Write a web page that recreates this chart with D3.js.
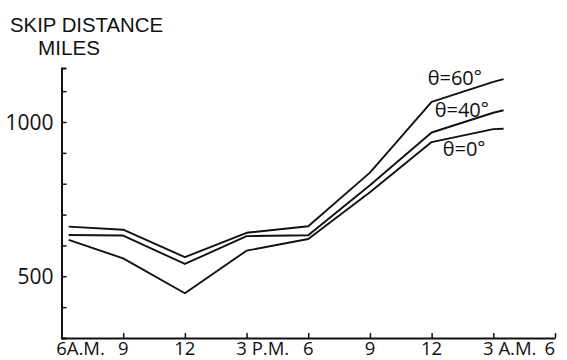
<!DOCTYPE html>
<html><head><meta charset="utf-8">
<script src="https://cdn.jsdelivr.net/npm/d3@7"></script>
<style>
html,body{margin:0;padding:0;background:#fff;}
text{font-family:"Open Sans","Roboto",sans-serif;fill:#111;}
</style></head>
<body><svg id="c" width="567" height="360"></svg>
<script>
// ---- data ----
const hours = [6.35, 9, 12, 15, 18, 21, 24, 27, 27.5];
const theta60 = [661, 651, 562, 641, 662, 836, 1065, 1130, 1139];
const theta40 = [634, 632, 540, 630, 633, 795, 966, 1030, 1038];
const theta0  = [618, 558, 445, 583, 621, 772, 935, 977, 978];
const seriesNames = ["θ=60", "θ=40", "θ=0"];
const xTickValues = [6, 9, 12, 15, 18, 21, 24, 27, 30];
const xTickNumbers = ["6", "9", "12", "3", "6", "9", "12", "3", "6"];
const xTickSuffix = ["A.M.", "", "", " P.M.", "", "", "", " A.M.", ""];
const yTickValues = [400, 500, 600, 700, 800, 900, 1000, 1100];
const yTickLabels = ["", "500", "", "", "", "", "1000", ""];
const titleLines = ["SKIP DISTANCE", "MILES"];

const svg = d3.select("#c");
const x = d3.scaleLinear().domain([6, 30]).range([61.5, 555]);
const y = d3.scaleLinear().domain([300, 1175]).range([338, 68]);

// axes
svg.append("g").attr("transform", `translate(${x(6)},0)`)
  .call(d3.axisLeft(y).tickValues(yTickValues).tickSize(-5).tickSizeOuter(-5).tickFormat(""));
svg.append("g").attr("transform", `translate(0,${y(300)})`)
  .call(d3.axisBottom(x).tickValues(xTickValues).tickSize(-5).tickSizeOuter(0).tickFormat(""));
svg.selectAll(".domain").attr("stroke", "#111").attr("stroke-width", 2);
svg.selectAll(".tick line").attr("stroke", "#111").attr("stroke-width", 1.5);

// y labels
yTickValues.forEach((v, i) => {
  if (!yTickLabels[i]) return;
  svg.append("text").attr("x", x(6) - 8).attr("y", y(v)).attr("dy", "0.36em")
    .attr("text-anchor", "end").attr("font-size", 21).text(yTickLabels[i]);
});

// x labels
xTickValues.forEach((v, i) => {
  const last = i === xTickValues.length - 1;
  const t = svg.append("text").attr("y", 355).attr("font-size", 18.5);
  const num = t.append("tspan").text(xTickNumbers[i]);
  if (xTickSuffix[i]) t.append("tspan").text(xTickSuffix[i]);
  const w = num.node().getComputedTextLength();
  let sx = x(v) - w / 2;
  if (xTickSuffix[i] && i > 0) sx -= 5;
  if (last) sx = x(v) - w;
  t.attr("x", sx);
});

// lines
const line = d3.line().x((d, i) => x(hours[i])).y(d => y(d));
[theta60, theta40, theta0].forEach(s => {
  svg.append("path").datum(s).attr("d", line)
    .attr("fill", "none").attr("stroke", "#111").attr("stroke-width", 1.9)
    .attr("stroke-linejoin", "round");
});

// series labels
const li = 6; // midnight point index
const lab = [
  {s: theta60, dx: -4, dy: -17},
  {s: theta40, dx: 3, dy: -15},
  {s: theta0, dx: 11, dy: 14}
];
lab.forEach((o, k) => {
  const t = svg.append("text").attr("x", x(hours[li]) + o.dx).attr("y", y(o.s[li]) + o.dy)
    .attr("font-size", 20);
  t.append("tspan").text(seriesNames[k]);
  t.append("tspan").attr("font-size", 19).attr("dy", -2).text("°");
});

// title
svg.append("text").attr("x", 10).attr("y", 32).attr("font-size", 20)
  .style("font-family", "'Liberation Sans', Arial, sans-serif")
  .attr("textLength", 153).attr("lengthAdjust", "spacingAndGlyphs").text(titleLines[0]);
svg.append("text").attr("x", 38).attr("y", 54.5).attr("font-size", 20)
  .style("font-family", "'Liberation Sans', Arial, sans-serif")
  .attr("textLength", 62).attr("lengthAdjust", "spacingAndGlyphs").text(titleLines[1]);
</script></body></html>
